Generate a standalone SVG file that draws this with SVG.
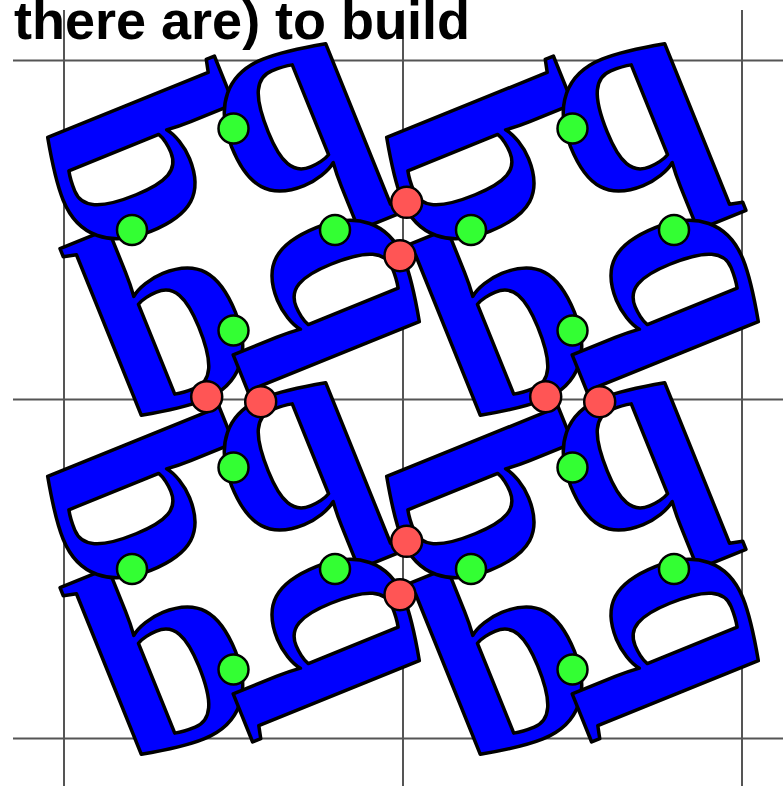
<svg xmlns="http://www.w3.org/2000/svg" xmlns:xlink="http://www.w3.org/1999/xlink" width="783" height="786" viewBox="0 0 783 786">
<style>
.grid{stroke:#555;stroke-width:2;fill:none}
.L{font-family:"Liberation Serif","Times New Roman",serif;font-weight:bold;font-size:276px;fill:#0000ff;stroke:#000;stroke-width:3.5;stroke-linejoin:round}
.g{fill:#33ff33;stroke:#000;stroke-width:2.5}
.r{fill:#ff5555;stroke:#000;stroke-width:2.5}
.title{font-family:"Liberation Sans",Arial,sans-serif;font-weight:bold;font-size:54px;fill:#000}
</style>
<defs>
<g id="letter"><text class="L" transform="translate(-105,198) rotate(-22)" x="0" y="0">b</text></g>
<g id="quad">
<use xlink:href="#letter"/>
<use xlink:href="#letter" transform="rotate(90)"/>
<use xlink:href="#letter" transform="rotate(180)"/>
<use xlink:href="#letter" transform="rotate(270)"/>
</g>
<g id="greens">
<circle class="g" cx="0" cy="-101" r="15"/>
<circle class="g" cx="-101.5" cy="0.5" r="15"/>
<circle class="g" cx="101.5" cy="0.5" r="15"/>
<circle class="g" cx="0" cy="101" r="15"/>
</g>
</defs>
<rect width="783" height="786" fill="#fff"/>
<g id="connectors">
<line class="grid" x1="13" y1="60.5" x2="783" y2="60.5"/>
<line class="grid" x1="13" y1="399.5" x2="783" y2="399.5"/>
<line class="grid" x1="13" y1="738.5" x2="783" y2="738.5"/>
<line class="grid" x1="64" y1="10" x2="64" y2="786"/>
<line class="grid" x1="403" y1="10" x2="403" y2="786"/>
<line class="grid" x1="742" y1="10" x2="742" y2="786"/>
</g>
<g id="tile1" transform="translate(233.5,229.5)"><use xlink:href="#quad"/></g>
<g id="tile2" transform="translate(572.5,229.5)"><use xlink:href="#quad"/></g>
<g id="tile3" transform="translate(233.5,568.5)"><use xlink:href="#quad"/></g>
<g id="tile4" transform="translate(572.5,568.5)"><use xlink:href="#quad"/></g>
<g id="green-dots">
<use xlink:href="#greens" transform="translate(233.5,229.5)"/>
<use xlink:href="#greens" transform="translate(572.5,229.5)"/>
<use xlink:href="#greens" transform="translate(233.5,568.5)"/>
<use xlink:href="#greens" transform="translate(572.5,568.5)"/>
</g>
<g id="red-dots">
<circle class="r" cx="406.7" cy="202.3" r="15.5"/>
<circle class="r" cx="400" cy="255.7" r="15.5"/>
<circle class="r" cx="206.7" cy="396.7" r="15.5"/>
<circle class="r" cx="260.7" cy="401.7" r="15.5"/>
<circle class="r" cx="545.7" cy="396.7" r="15.5"/>
<circle class="r" cx="599.7" cy="401.7" r="15.5"/>
<circle class="r" cx="406.7" cy="541.3" r="15.5"/>
<circle class="r" cx="400" cy="594.7" r="15.5"/>
</g>
<text class="title" x="14" y="39">there are) to build</text>
</svg>
